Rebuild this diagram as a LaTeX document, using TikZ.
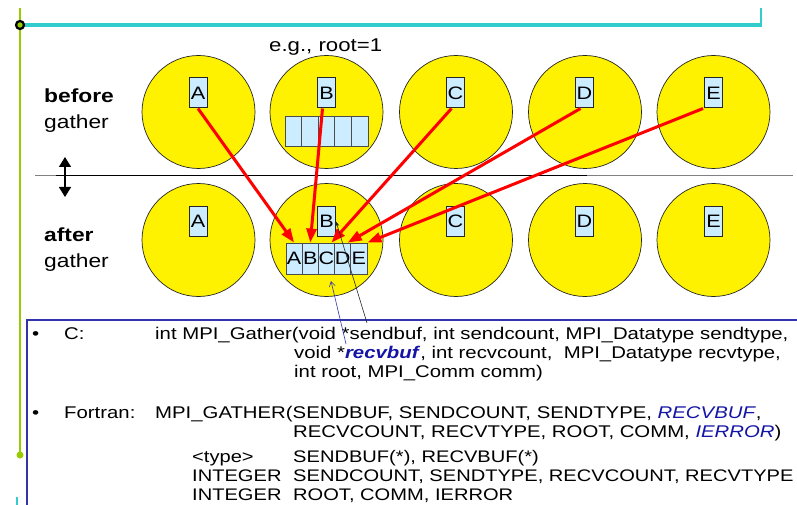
\documentclass[tikz,border=0pt]{standalone}
\usepackage{fontspec}
\setmainfont{Liberation Sans}[FakeStretch=1.2]
\usetikzlibrary{arrows.meta,calc}
\definecolor{lb}{RGB}{204,236,255}
\definecolor{grn}{RGB}{153,204,0}
\definecolor{cy}{RGB}{51,204,204}
\definecolor{fb}{RGB}{51,51,170}
\definecolor{tb}{RGB}{20,20,165}
\newcommand{\codefnt}{\fontsize{16.95}{19.5}\selectfont}
\newcommand{\typefnt}{\fontsize{16.75}{19.5}\selectfont}
\newcommand{\boxfnt}{\fontsize{18}{20}\selectfont}
\newcommand{\lblfnt}{\fontsize{19}{22}\selectfont}
\begin{document}
\begin{tikzpicture}[x=1pt,y=-1pt,
  proc/.style={circle, draw=black!85, fill=yellow, minimum size=113pt, inner sep=0pt, line width=0.7pt},
  lbox/.style={draw=black!85, fill=lb, minimum width=18pt, minimum height=30pt, inner sep=0pt, line width=1pt, font=\boxfnt},
  cell/.style={draw=black!70, fill=lb, minimum width=16.4pt, minimum height=31pt, inner sep=0pt, line width=0.8pt, font=\boxfnt},
  redarr/.style={red, line width=3pt, -{Triangle[length=14pt,width=10pt]}},
  txt/.style={anchor=base west, inner sep=0pt, font=\codefnt},
  ttxt/.style={anchor=base west, inner sep=0pt, font=\typefnt},
  lbl/.style={anchor=base west, inner sep=0pt, font=\lblfnt}]
\useasboundingbox (0,0) rectangle (797,505);
% slide decorations
\draw[grn, line width=1.5pt] (20,8) -- (20,455);
\fill[grn] (20,455) circle (3.5);
\draw[cy, line width=3.5pt] (20,25) -- (761,25);
\draw[cy, line width=2pt] (761,26.75) -- (761,8);
\draw[line width=2.2pt, draw=black, fill=grn] (20,25) circle (4);
\draw[cy, line width=1.5pt] (17,497) -- (17,505);
% text frame
\draw[fb, line width=2pt] (797,320) -- (27,320) -- (27,505);
% divider
\draw[gray, line width=1pt] (35,176) -- (56,176);
\draw[black, line width=1pt] (56,176) -- (587,176);
\draw[gray, line width=1pt] (587,176) -- (793,176);
\coordinate (dtop) at (65,157);
\coordinate (dbot) at (65,197);
\draw[line width=1.5pt, {Triangle[length=10pt,width=12pt]}-{Triangle[length=10pt,width=12pt]}] (dtop) -- (dbot);
% labels
\node[lbl] (lb1) at (44,103) {\bfseries before};
\node[lbl] (lb2) at (44,129) {gather};
\node[lbl] (la1) at (44,241) {\bfseries after};
\node[lbl] (la2) at (44,267) {gather};
\node[anchor=base west, inner sep=0pt, font=\fontsize{18.5}{20}\selectfont] (eg) at (269,52) {e.g., root=1};
% processes
\foreach \n/\x in {A/198.5,B/326.5,C/456,D/585,E/713.5} {
  \node[proc] (p\n) at (\x,112) {};
  \node[proc] (q\n) at (\x,240) {};
}
\foreach \n/\x in {A/198,B/326.5,C/455.5,D/584.5,E/713.5} {
  \node[lbox] (b\n) at (\x,93) {\n};
  \node[lbox] (a\n) at (\x,221.5) {\n};
}
% send buffer of root (before)
\foreach \i/\x in {1/293.3,2/309.9,3/326.5,4/343.1,5/359.7} {
  \node[cell, minimum width=16.6pt, minimum height=30pt] (s\i) at (\x,131) {};
}
% receive buffer of root (after)
\foreach \n/\x in {A/294.1,B/310.3,C/326.5,D/342.7,E/358.9} {
  \node[cell, minimum width=16.2pt] (r\n) at (\x,258.5) {\n};
}
% gather arrows
\draw[redarr] (bA.south) -- (rA.north);
\draw[redarr] ($(bB.south)+(-4,0)$) -- (rB.north);
\draw[redarr] ($(bC.south)+(-4,0)$) -- ($(rC.north)+(5,0)$);
\draw[redarr] ($(bD.south)+(-4,0)$) -- ($(rD.north)+(5,0)$);
\draw[redarr] ($(bE.south west)+(-1,0)$) -- (rE.north east);
% code text
\node[txt] (bul1) at (32,339) {•};
\node[txt] (lc) at (64,339) {C:};
\node[txt] (c1) at (155,339) {int MPI\_Gather(void *sendbuf, int sendcount, MPI\_Datatype sendtype,};
\node[txt] (c2) at (294,358) {void *\textcolor{tb}{\textbf{\textit{recvbuf}}}, int recvcount,\ \ MPI\_Datatype recvtype,};
\node[txt] (c3) at (294,377) {int root, MPI\_Comm comm)};
\node[txt] (bul2) at (32,418) {•};
\node[txt] (lf) at (64,418) {Fortran:};
\node[txt] (f1) at (155,418) {MPI\_GATHER(SENDBUF, SENDCOUNT, SENDTYPE, \textcolor{tb}{\textit{RECVBUF}},};
\node[txt] (f2) at (293,437) {RECVCOUNT, RECVTYPE, ROOT, COMM, \textcolor{tb}{\textit{IERROR}})};
\node[ttxt] (t1a) at (192,462) {<type>};
\node[ttxt] (t1b) at (293,462) {SENDBUF(*), RECVBUF(*)};
\node[ttxt] (t2a) at (192,481) {INTEGER};
\node[ttxt] (t2b) at (293,481) {SENDCOUNT, SENDTYPE, RECVCOUNT, RECVTYPE};
\node[ttxt] (t3a) at (192,500) {INTEGER};
\node[ttxt] (t3b) at (293,500) {ROOT, COMM, IERROR};
% pointers from the call to the buffers
\coordinate (sendp) at (367,323);
\coordinate (recvp) at (346,344);
\coordinate (recvtip) at (331,281);
\draw[black!85, line width=0.6pt, -{Stealth[length=5pt,width=4pt]}] (sendp) -- (aB.east);
\draw[fb, line width=0.6pt, -{Straight Barb[length=5pt,width=6pt]}] (recvp) -- (recvtip);
\end{tikzpicture}
\end{document}
